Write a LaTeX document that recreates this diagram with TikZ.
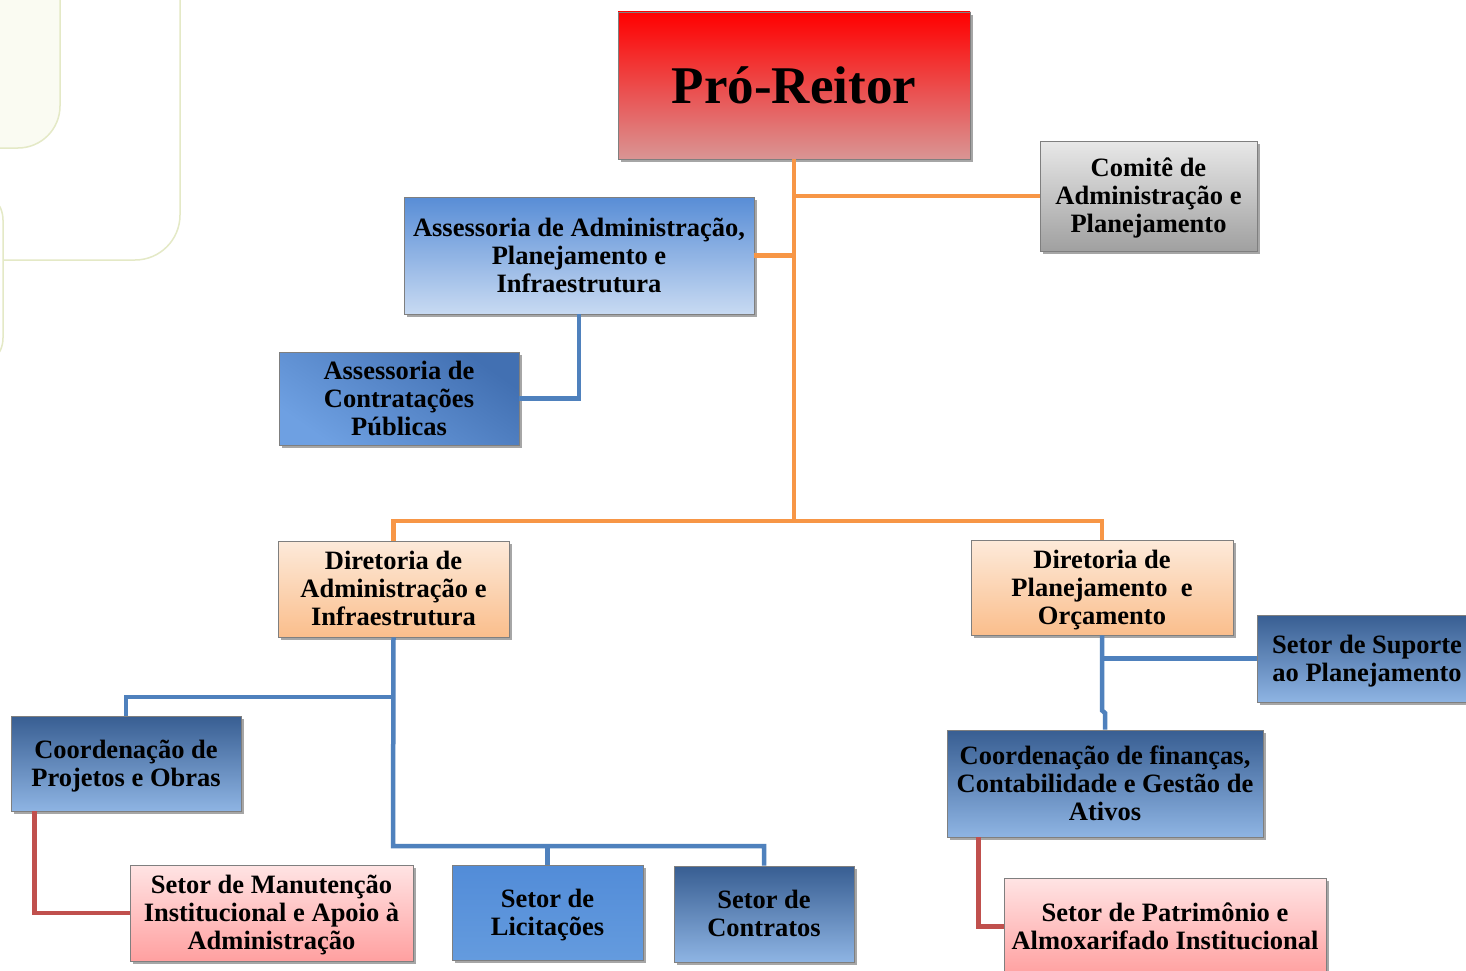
\documentclass[tikz,border=0pt]{standalone}
\usepackage{fontspec}
\setmainfont{Liberation Serif}
\usetikzlibrary{positioning,calc,shadows}

\definecolor{orgline}{HTML}{F79646}
\definecolor{blueline}{HTML}{4F81BD}
\definecolor{redline}{HTML}{C0504D}
\definecolor{boxedge}{HTML}{7F7F7F}
\definecolor{decoedge}{HTML}{E4E9C6}
\definecolor{decofill}{HTML}{FAFBF2}

% centred lines, set a little lower in the box
\newcommand{\boxlines}[1]{\raisebox{-3pt}[\height][\depth]{\begin{tabular}{@{}c@{}}#1\end{tabular}}}

\begin{document}
\begin{tikzpicture}[
    x=1pt,
    y=-1pt,
    every node/.style={draw=boxedge,line width=0.8pt,inner sep=0pt,align=center,
      font=\fontsize{26.5}{28}\selectfont\bfseries,
      drop shadow={shadow xshift=2.5pt,shadow yshift=-3pt,fill=black,opacity=0.35}},
    redbox/.style={top color={rgb,255:red,255;green,0;blue,0},middle color={rgb,255:red,222;green,128;blue,128},
      bottom color={rgb,255:red,217;green,149;blue,148}},
    graybox/.style={top color={rgb,255:red,232;green,232;blue,232},bottom color={rgb,255:red,160;green,160;blue,160}},
    lightbluebox/.style={top color={rgb,255:red,88;green,141;blue,214},bottom color={rgb,255:red,200;green,218;blue,242}},
    bluebox/.style={top color={rgb,255:red,66;green,112;blue,178},bottom color={rgb,255:red,110;green,160;blue,226}},
    darkbluebox/.style={top color={rgb,255:red,56;green,94;blue,146},middle color={rgb,255:red,80;green,135;blue,210},
      bottom color={rgb,255:red,142;green,180;blue,227}},
    flatbluebox/.style={top color={rgb,255:red,82;green,140;blue,216},bottom color={rgb,255:red,100;green,155;blue,222}},
    orangebox/.style={top color={rgb,255:red,253;green,234;blue,218},bottom color={rgb,255:red,250;green,190;blue,140}},
    pinkbox/.style={top color={rgb,255:red,255;green,228;blue,228},bottom color={rgb,255:red,255;green,160;blue,160}},
    orgedge/.style={draw=orgline,line width=4.5pt},
    blueedge/.style={draw=blueline,line width=4.5pt},
    rededge/.style={draw=redline,line width=4.5pt},
    deco/.style={draw=decoedge,line width=1.5pt}
    ]
    \useasboundingbox (0,0) rectangle (1466,971);
    \fill[white] (0,0) rectangle (1466,971);

    % background frames
    \draw[deco,fill=white,rounded corners=45pt] (-100,-100) rectangle (180,260);
    \draw[deco,fill=decofill,rounded corners=42pt] (-100,-100) rectangle (60,148);
    \draw[deco,fill=white,rounded corners=30pt] (-100,190) rectangle (3,368);

    % top level
    \node[redbox,minimum width=352pt,minimum height=147pt,font=\fontsize{53}{56}\selectfont\bfseries] (pro) at (794,85.5) {Pró-Reitor};
    \node[graybox,minimum width=217pt,minimum height=110pt] (comite) at (1148.5,196) {\boxlines{Comitê de\\Administração e\\Planejamento}};
    \node[lightbluebox,minimum width=350pt,minimum height=117pt] (assadm) at (579,255.5) {\boxlines{Assessoria de Administração,\\Planejamento e\\Infraestrutura}};
    \node[bluebox,minimum width=240pt,minimum height=93pt,shading angle=-35] (asscp) at (399,398.5) {\boxlines{Assessoria de\\Contratações\\Públicas}};

    % directorates
    \node[orangebox,minimum width=231pt,minimum height=96pt] (dirai) at (393.5,589) {\boxlines{Diretoria de\\Administração e\\Infraestrutura}};
    \node[orangebox,minimum width=262pt,minimum height=95pt] (dirpo) at (1102,587.5) {\boxlines{Diretoria de\\Planejamento~ e\\Orçamento}};

    % left branch
    \node[darkbluebox,minimum width=230pt,minimum height=95pt] (coordpo) at (126,763.5) {\boxlines{Coordenação de\\Projetos e Obras}};
    \node[pinkbox,minimum width=283pt,minimum height=96pt] (manut) at (271.5,913) {\boxlines{Setor de Manutenção\\Institucional e Apoio à\\Administração}};
    \node[flatbluebox,minimum width=191pt,minimum height=95pt] (lic) at (547.5,912.5) {\boxlines{Setor de\\Licitações}};
    \node[darkbluebox,minimum width=180pt,minimum height=96pt] (contr) at (764,914) {\boxlines{Setor de\\Contratos}};

    % right branch
    \node[darkbluebox,minimum width=220pt,minimum height=87pt] (suporte) at (1367,658.5) {\boxlines{Setor de Suporte\\ao Planejamento}};
    \node[darkbluebox,minimum width=316pt,minimum height=107pt] (coordfin) at (1105,783.5) {\boxlines{Coordenação de finanças,\\Contabilidade e Gestão de\\Ativos}};
    \node[pinkbox,minimum width=322pt,minimum height=97pt] (patr) at (1165,926.5) {\boxlines{Setor de Patrimônio e\\Almoxarifado Institucional}};

    \coordinate (hub) at (794,521);
    \coordinate (bar1) at (393,697);
    \coordinate (bar2) at (393,846);

    % orange links
    \draw[orgedge] (pro.south) -- (hub);
    \draw[orgedge] (pro.south |- comite.west) -- (comite.west);
    \draw[orgedge] (assadm.east) -- (pro.south |- assadm.east);
    \draw[orgedge] (dirai.north) |- (hub) -| (dirpo.north);
    % blue links
    \draw[blueedge] (assadm.south) |- (asscp.east);
    \draw[blueedge] (dirai.south) -- (bar2) -| (contr.north);
    \draw[blueedge] (bar1) -| (coordpo.north);
    \draw[blueedge] (lic.north) -- (lic.north |- bar2);
    \draw[blueedge] (dirpo.south) -- ++(0,75) -- (coordfin.north |- 0,713) -- (coordfin.north);
    \draw[blueedge] (dirpo.south |- suporte.west) -- (suporte.west);
    % red links
    \draw[rededge] ($(coordpo.south west)+(24,0)$) |- (manut.west);
    \draw[rededge] ($(coordfin.south west)+(32,0)$) |- (patr.west);
  \end{tikzpicture}
\end{document}
